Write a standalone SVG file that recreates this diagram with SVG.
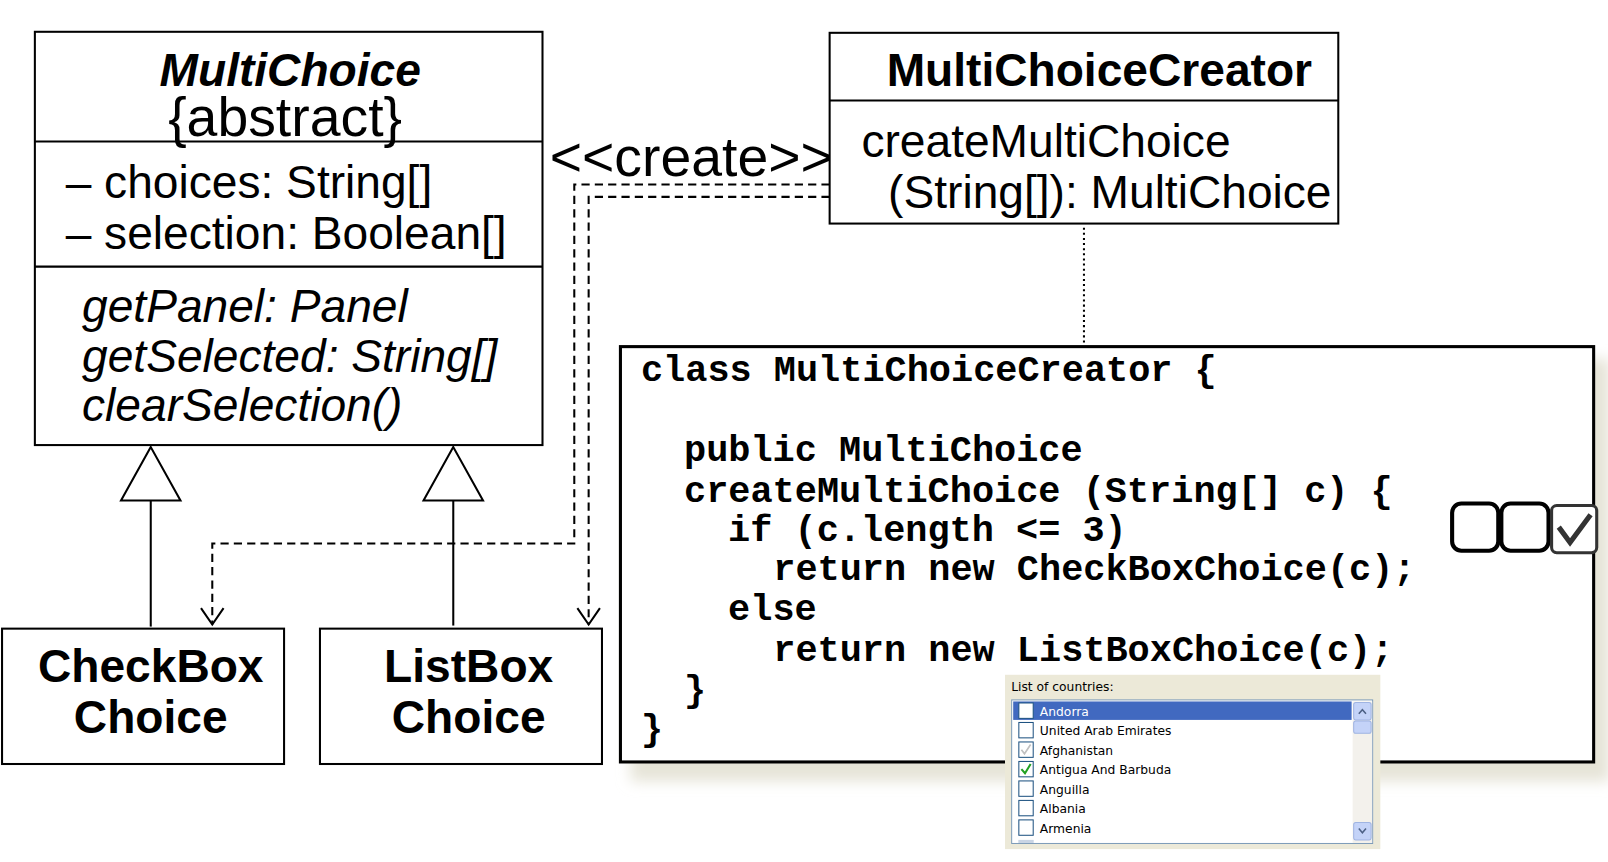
<svg xmlns="http://www.w3.org/2000/svg" width="1608" height="862" viewBox="0 0 1608 862">
<style>
.box{fill:#fff;stroke:#000;stroke-width:2}
.sans{font-family:"Liberation Sans",Arial,sans-serif;fill:#000}
.code{font-family:"Liberation Mono","Courier New",monospace;font-weight:bold;font-size:36px;fill:#000}
.dash{fill:none;stroke:#000;stroke-width:2;stroke-dasharray:8,5}
.solid{fill:none;stroke:#000;stroke-width:2}
.ui{font-family:"DejaVu Sans",Tahoma,sans-serif;font-size:12px;fill:#000}
.cb{fill:#fff;stroke:#1c5180;stroke-width:1}
</style>
<defs>
<marker id="open" markerWidth="22" markerHeight="28" refX="17" refY="12" orient="auto" markerUnits="userSpaceOnUse">
<path d="M1,1 L17,12 L1,23" fill="none" stroke="#000" stroke-width="2"/>
</marker>
<filter id="sh" x="-10%" y="-10%" width="120%" height="130%">
<feGaussianBlur stdDeviation="7"/>
</filter>
</defs>
<rect width="1608" height="862" fill="#fff"/>
<g transform="scale(1.02551)">

<g id="connectors">
<path class="dash" d="M809,180 L560,180 L560,530 L207,530 L207,609" marker-end="url(#open)"/>
<path class="dash" d="M809,192 L574,192 L574,609" marker-end="url(#open)"/>
<path class="solid" d="M147,488 L147,611"/>
<path class="solid" d="M442,488 L442,610"/>
<polygon points="147,436 118,488 176,488" fill="#fff" stroke="#000" stroke-width="2"/>
<polygon points="442,436 413,488 471,488" fill="#fff" stroke="#000" stroke-width="2"/>
<line x1="1057" y1="222" x2="1057" y2="334" stroke="#000" stroke-width="2" stroke-dasharray="2,3"/>
<text class="sans" x="536" y="172" font-size="54">&lt;&lt;create&gt;&gt;</text>
</g>

<g id="MultiChoice">
<rect class="box" x="34" y="31" width="495" height="403"/>
<line class="solid" x1="34" y1="138" x2="529" y2="138"/>
<line class="solid" x1="34" y1="260" x2="529" y2="260"/>
<text class="sans" x="283" y="84" font-size="45" font-weight="bold" font-style="italic" text-anchor="middle">MultiChoice</text>
<text class="sans" x="278" y="133" font-size="54" text-anchor="middle">{abstract}</text>
<text class="sans" x="64" y="193" font-size="45">– choices: String[]</text>
<text class="sans" x="64" y="243" font-size="45">– selection: Boolean[]</text>
<text class="sans" x="80" y="314" font-size="45" font-style="italic">getPanel: Panel</text>
<text class="sans" x="80" y="363" font-size="45" font-style="italic">getSelected: String[]</text>
<text class="sans" x="80" y="411" font-size="45" font-style="italic">clearSelection()</text>
</g>

<g id="MultiChoiceCreator">
<rect class="box" x="809" y="32" width="496" height="186"/>
<line class="solid" x1="809" y1="98" x2="1305" y2="98"/>
<text class="sans" x="1072" y="84" font-size="45" font-weight="bold" text-anchor="middle">MultiChoiceCreator</text>
<text class="sans" x="840" y="153" font-size="45">createMultiChoice</text>
<text class="sans" x="866" y="203" font-size="45">(String[]): MultiChoice</text>
</g>

<g id="CheckBoxChoice">
<rect class="box" x="2" y="613" width="275" height="132"/>
<text class="sans" x="147" y="665" font-size="45" font-weight="bold" text-anchor="middle">CheckBox</text>
<text class="sans" x="147" y="715" font-size="45" font-weight="bold" text-anchor="middle">Choice</text>
</g>

<g id="ListBoxChoice">
<rect class="box" x="312" y="613" width="275" height="132"/>
<text class="sans" x="457" y="665" font-size="45" font-weight="bold" text-anchor="middle">ListBox</text>
<text class="sans" x="457" y="715" font-size="45" font-weight="bold" text-anchor="middle">Choice</text>
</g>

<g id="code">
<rect x="615" y="350" width="955" height="412" fill="#e6e4d8" filter="url(#sh)"/>
<rect x="605" y="338" width="949" height="405" fill="#fff" stroke="#000" stroke-width="3"/>
<text class="code" x="625" y="372">class MultiChoiceCreator {</text>
<text class="code" x="667" y="450">public MultiChoice</text>
<text class="code" x="667" y="490">createMultiChoice (String[] c) {</text>
<text class="code" x="710" y="528">if (c.length &lt;= 3)</text>
<text class="code" x="754" y="566">return new CheckBoxChoice(c);</text>
<text class="code" x="710" y="605">else</text>
<text class="code" x="754" y="645">return new ListBoxChoice(c);</text>
<text class="code" x="667" y="684">}</text>
<text class="code" x="625" y="722">}</text>
</g>

<g id="checkbox-icon">
<rect x="1416" y="491" width="45" height="46" rx="9" fill="#fff" stroke="#000" stroke-width="4"/>
<rect x="1464" y="491" width="46" height="46" rx="9" fill="#fff" stroke="#000" stroke-width="4"/>
<rect x="1513" y="493" width="44" height="46" rx="5" fill="#fff" stroke="#333" stroke-width="3"/>
<path d="M1520,514 L1531,529 L1551,502" fill="none" stroke="#333" stroke-width="5"/>
</g>

<g id="listbox">
<rect x="980" y="658" width="366" height="170" fill="#ece9d8"/>
<text class="ui" x="986" y="674" font-size="11.5">List of countries:</text>
<rect x="986.5" y="682.5" width="352" height="140" fill="#fff" stroke="#7f9db9" stroke-width="1"/>
<rect x="988" y="684" width="330" height="18" fill="#4169c0"/>
<rect x="1319" y="684" width="19" height="138" fill="#f3f1ec"/>
<rect x="1320" y="685" width="17" height="17" rx="2" fill="#c4d3f8" stroke="#9fb4e2"/>
<path d="M1325,696 L1328.5,692 L1332,696" fill="none" stroke="#4d6185" stroke-width="1.5"/>
<rect x="1320" y="703" width="17" height="12" rx="2" fill="#c4d3f8" stroke="#9fb4e2"/>
<rect x="1320" y="802" width="17" height="17" rx="2" fill="#c4d3f8" stroke="#9fb4e2"/>
<path d="M1325,808 L1328.5,812 L1332,808" fill="none" stroke="#4d6185" stroke-width="1.5"/>
<rect class="cb" x="993.5" y="685.5" width="14" height="15" stroke="#e0e0e0"/>
<text class="ui" x="1014" y="698" style="fill:#fff">Andorra</text>
<rect class="cb" x="993.5" y="704.5" width="14" height="15"/>
<text class="ui" x="1014" y="717">United Arab Emirates</text>
<rect class="cb" x="993.5" y="723.5" width="14" height="15" stroke="#dcdcdc"/>
<path d="M996,731 L999,735 L1005,726" fill="none" stroke="#c0c0c0" stroke-width="1.6"/>
<text class="ui" x="1014" y="736">Afghanistan</text>
<rect class="cb" x="993.5" y="742.5" width="14" height="15"/>
<path d="M996,750 L999.5,754 L1005,745" fill="none" stroke="#21a121" stroke-width="2"/>
<text class="ui" x="1014" y="755">Antigua And Barbuda</text>
<rect class="cb" x="993.5" y="761.5" width="14" height="15"/>
<text class="ui" x="1014" y="774">Anguilla</text>
<rect class="cb" x="993.5" y="780.5" width="14" height="15" stroke="#ececec"/>
<text class="ui" x="1014" y="793">Albania</text>
<rect class="cb" x="993.5" y="799.5" width="14" height="15"/>
<text class="ui" x="1014" y="812">Armenia</text>
<rect x="993" y="819" width="15" height="3" fill="#c8d4e4"/>
</g>
</g>
</svg>
